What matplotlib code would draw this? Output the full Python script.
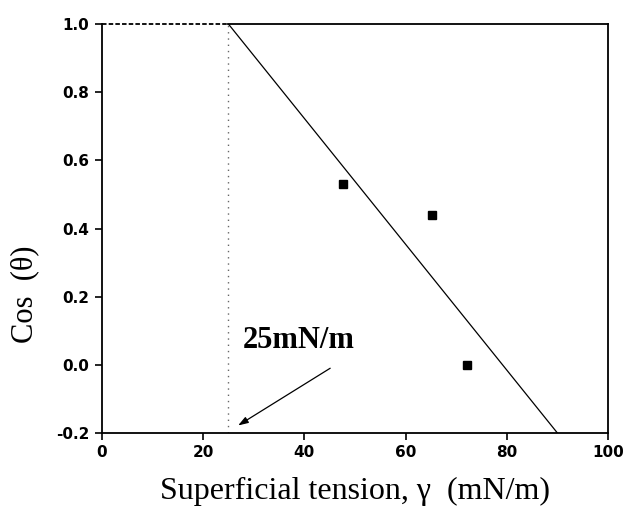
import matplotlib
matplotlib.use("Agg")
import matplotlib.pyplot as plt

# Data
gamma = [47.6, 65.3, 72.1]
cos_theta = [0.53, 0.44, 0.0]
fit_gamma = [25, 90]
fit_cos = [1.0, -0.2]
gamma_c = 25
x_ticks = [0, 20, 40, 60, 80, 100]
y_ticks = [-0.2, 0.0, 0.2, 0.4, 0.6, 0.8, 1.0]
annot_text = "25mN/m"

fig = plt.figure(figsize=(6.23, 5.13), dpi=100)
ax = fig.add_axes([0.1637, 0.156, 0.8122, 0.797])

ax.set_xlim(0, 100)
ax.set_ylim(-0.2, 1.0)

# fit line
ax.plot(fit_gamma, fit_cos, color="black", lw=0.9, zorder=3)
# data points
ax.plot(gamma, cos_theta, ls="none", marker="s", ms=5.2, color="black", zorder=4)
# critical tension dotted line
ax.plot([gamma_c, gamma_c], [-0.2, 1.0], ls=(0, (1, 3.5)), color="#666666", lw=1.0, zorder=2)

# top spine: dashed until gamma_c, solid after
ax.spines["top"].set_visible(False)
ax.plot([0, gamma_c], [1.0, 1.0], ls=(0, (2.5, 1.2)), color="black", lw=1.3,
        clip_on=False, zorder=5)
ax.plot([gamma_c, 100], [1.0, 1.0], color="black", lw=1.3, clip_on=False, zorder=5)

for s in ["left", "bottom", "right"]:
    ax.spines[s].set_linewidth(1.3)

ax.set_xticks(x_ticks)
ax.set_yticks(y_ticks)
ax.set_xticklabels([f"{v:d}" for v in x_ticks])
ax.set_yticklabels([f"{v:.1f}" for v in y_ticks])
ax.tick_params(direction="out", length=5, width=1.2, labelsize=11, pad=4,
               top=False, right=False)
for lab in ax.get_xticklabels() + ax.get_yticklabels():
    lab.set_fontweight("bold")

ax.set_xlabel("Superficial tension, \u03b3  (mN/m)", fontfamily="Liberation Serif",
              fontsize=23, labelpad=12)
ax.set_ylabel("Cos  (\u03b8)", fontfamily="Liberation Serif", fontsize=22)
ax.yaxis.set_label_coords(-0.125, 0.34)

ax.text(27.8, 0.05, annot_text, fontfamily="Liberation Serif", fontweight="bold",
        fontsize=22, ha="left", va="baseline")
ax.annotate("", xy=(26.9, -0.178), xytext=(45.1, -0.01),
            arrowprops=dict(arrowstyle="-|>,head_length=0.6,head_width=0.2",
                            color="black", lw=0.9, shrinkA=0, shrinkB=0))

fig.savefig("out.png", dpi=100)
